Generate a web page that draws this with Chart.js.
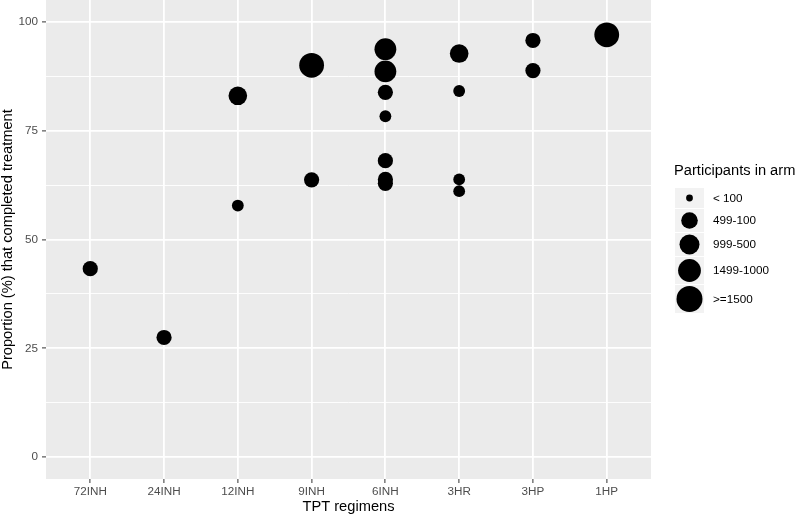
<!DOCTYPE html>
<html>
<head>
<meta charset="utf-8">
<script src="https://cdn.jsdelivr.net/npm/chart.js@4"></script>
<style>
  body { margin: 0; background: #ffffff; }
  #wrap { width: 800px; height: 516px; }
</style>
</head>
<body>
<div id="wrap"><canvas id="myChart" width="800" height="516"></canvas></div>
<script>
// categories on the x axis
const regimens = ["72INH", "24INH", "12INH", "9INH", "6INH", "3HR", "3HP", "1HP"];

// one entry per study arm
const armRegimen = ["72INH", "24INH", "12INH", "12INH", "9INH", "9INH",
  "6INH", "6INH", "6INH", "6INH", "6INH", "6INH", "6INH",
  "3HR", "3HR", "3HR", "3HR", "3HP", "3HP", "1HP"];
const armCompleted = [43.3, 27.5, 83.0, 57.8, 90.0, 63.7,
  93.7, 88.6, 83.8, 78.3, 68.1, 63.8, 62.9,
  92.7, 84.1, 63.8, 61.1, 95.7, 88.8, 97.0];
// index into sizeLabels
const armSizeClass = [1, 1, 2, 0, 4, 1,
  3, 3, 1, 0, 1, 1, 1,
  2, 0, 0, 0, 1, 1, 4];

const sizeLabels = ["< 100", "499-100", "999-500", "1499-1000", ">=1500"];
const yTicks = [0, 25, 50, 75, 100];
const yMinorTicks = [12.5, 37.5, 62.5, 87.5];

// drawing styles
const pointRadius = [5.9, 7.6, 9.3, 10.9, 12.4];
const keyRadius = [3.4, 8.3, 10, 11.4, 13];
const keyHeight = [21, 24, 24, 28, 29];
const fontFamily = "'Liberation Sans', Arial, sans-serif";

const ctx = document.getElementById("myChart");

const bubbles = armCompleted.map((v, i) => ({
  x: regimens.indexOf(armRegimen[i]),
  y: v,
  r: pointRadius[armSizeClass[i]]
}));

const panelBackground = {
  id: "panelBackground",
  beforeDraw(chart) {
    const a = chart.chartArea;
    const c = chart.ctx;
    c.save();
    c.fillStyle = "#EBEBEB";
    c.fillRect(a.left, a.top, a.right - a.left, a.bottom - a.top);
    c.restore();
  }
};

const sizeLegend = {
  id: "sizeLegend",
  afterDraw(chart) {
    const c = chart.ctx;
    const left = 675, keyW = 29;
    c.save();
    c.fillStyle = "#000000";
    c.textBaseline = "middle";
    c.textAlign = "left";
    c.font = "14.67px " + fontFamily;
    c.fillText("Participants in arm", 674, 171);

    let top = 188;
    c.font = "11.7px " + fontFamily;
    for (let i = 0; i < sizeLabels.length; i++) {
      const h = keyHeight[i];
      const cy = top + h / 2;
      c.fillStyle = "#F2F2F2";
      c.fillRect(left, top, keyW, h - 1);
      c.fillStyle = "#000000";
      c.beginPath();
      c.arc(left + keyW / 2, cy - 0.5, keyRadius[i], 0, Math.PI * 2);
      c.fill();
      c.fillText(sizeLabels[i], 713, cy);
      top += h;
    }
    c.restore();
  }
};

const isMajor = (v) => yTicks.includes(v);

const noScalePadding = (scale) => {
  scale.paddingTop = 0;
  scale.paddingBottom = 0;
  scale.paddingLeft = 0;
  scale.paddingRight = 0;
};

new Chart(ctx, {
  type: "bubble",
  data: {
    datasets: [{
      label: "arms",
      data: bubbles,
      backgroundColor: "#000000",
      borderWidth: 0,
      hoverBorderWidth: 0
    }]
  },
  options: {
    responsive: false,
    animation: false,
    events: [],
    layout: { autoPadding: false, padding: { left: 0, top: 0, right: 149, bottom: 0 } },
    plugins: {
      legend: { display: false },
      tooltip: { enabled: false }
    },
    scales: {
      x: {
        type: "linear",
        min: -0.6,
        max: 7.6,
        afterBuildTicks: (scale) => {
          scale.ticks = regimens.map((_, i) => ({ value: i }));
        },
        afterFit: (scale) => { scale.height = 37; noScalePadding(scale); },
        border: { display: false },
        grid: {
          color: "#FFFFFF",
          lineWidth: 1.8,
          drawTicks: true,
          tickLength: 4,
          tickColor: "#333333",
          tickWidth: 1
        },
        ticks: {
          autoSkip: false,
          maxRotation: 0,
          padding: 1.5,
          color: "#4D4D4D",
          font: { family: fontFamily, size: 11.7 },
          callback: (v) => regimens[v]
        },
        title: {
          display: true,
          text: "TPT regimens",
          color: "#000000",
          font: { family: fontFamily, size: 14.67 },
          padding: 0
        }
      },
      y: {
        min: -5,
        max: 105,
        afterBuildTicks: (scale) => {
          scale.ticks = yTicks.concat(yMinorTicks).sort((a, b) => a - b).map(v => ({ value: v }));
        },
        afterFit: (scale) => { scale.width = 46; noScalePadding(scale); },
        border: { display: false },
        grid: {
          color: "#FFFFFF",
          lineWidth: (c) => (c.tick && isMajor(c.tick.value) ? 1.8 : 0.9),
          drawTicks: true,
          tickLength: 4,
          tickColor: (c) => (c.tick && isMajor(c.tick.value) ? "#333333" : "rgba(0,0,0,0)"),
          tickWidth: 1
        },
        ticks: {
          autoSkip: false,
          padding: 4,
          color: "#4D4D4D",
          font: { family: fontFamily, size: 11.7 },
          callback: (v) => (isMajor(v) ? String(v) : "")
        },
        title: {
          display: true,
          text: "Proportion (%) that completed treatment",
          color: "#000000",
          font: { family: fontFamily, size: 14.67, lineHeight: 1.1 },
          padding: 0
        }
      }
    }
  },
  plugins: [panelBackground, sizeLegend]
});
</script>
</body>
</html>
